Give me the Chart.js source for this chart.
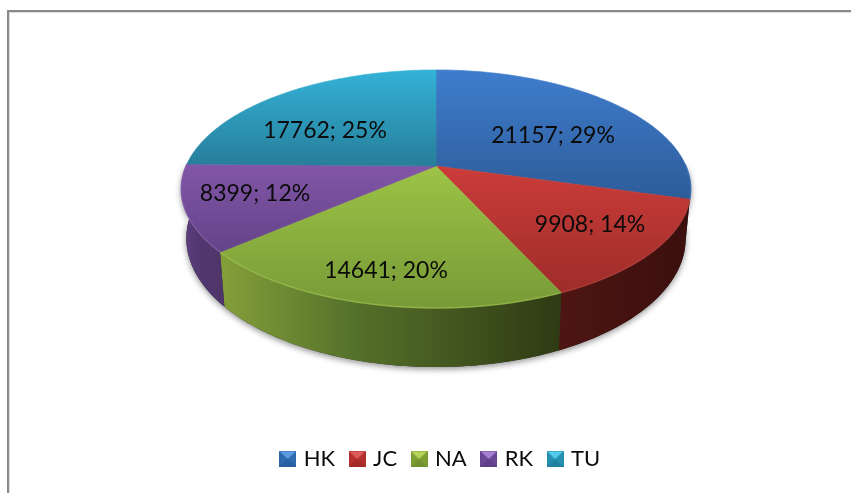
<!DOCTYPE html>
<html>
<head>
<meta charset="utf-8">
<style>html,body{margin:0;padding:0;background:#fff}canvas{display:block}</style>
<script src="https://cdn.jsdelivr.net/npm/chart.js@4"></script>
</head>
<body>
<canvas id="c" width="851" height="493"></canvas>
<script>
const categories = ['HK', 'JC', 'NA', 'RK', 'TU'];
const values = [21157, 9908, 14641, 8399, 17762];
const percents = [29, 14, 20, 12, 25];

const baseColors = ['#3A70B5', '#BE3A37', '#8FB140', '#7850A0', '#2E9CBC'];
const topLight = ['#3F7DCD', '#CB3C39', '#9DC346', '#8256A8', '#33B2D7'];
const topDark = ['#2D5C99', '#9E2D2A', '#789A37', '#644388', '#277E9A'];
const wallLeft = ['#24497C', '#4E1613', '#84A03A', '#5E4080', '#1E6E86'];
const wallMid = ['#21436F', '#461311', '#55702A', '#523770', '#1E6E86'];
const wallRight = ['#1D3B62', '#3A0F0D', '#2E3A13', '#4E3468', '#1E6E86'];
const rimColors = ['#4A80C4', '#B84340', '#A2C450', '#8A63AE', '#40B4D6'];
const legendTop = ['#5A9CDF', '#DC5C59', '#B6D45A', '#A680D0', '#52CCEC'];
const legendSide = ['#2F69AE', '#B5302E', '#7F9F35', '#6A4696', '#2590B0'];
const legendBottom = ['#2A5F9F', '#A32B29', '#739030', '#5F3F88', '#2182A0'];

const labelAnchors = [[553, 136], [590, 225], [386, 271], [255, 194], [325, 131]];

/* perspective view of the pie disc */
const view = {cx: 436, cy: 166, bx: 250, by: 114.6, k: -0.193, depth: 47.6, baseScale: 0.98};
function rimPoint(a, r) {
  const u = Math.cos(a) * r, v = Math.sin(a) * r, d = 1 + view.k * v;
  return [view.cx + view.bx * u / d, view.cy + view.by * v / d];
}
function basePoint(a) {
  const v = Math.sin(a), d = 1 + view.k * v, p = rimPoint(a, 1);
  return [view.cx + (p[0] - view.cx) * view.baseScale, p[1] + view.depth / d];
}
function arcPoints(a1, a2, fn) {
  const n = Math.max(2, Math.ceil(Math.abs(a2 - a1) / 0.02)), pts = [];
  for (let i = 0; i <= n; i++) pts.push(fn(a1 + (a2 - a1) * i / n));
  return pts;
}
function tracePoly(ctx, pts) {
  ctx.beginPath();
  pts.forEach((p, i) => i ? ctx.lineTo(p[0], p[1]) : ctx.moveTo(p[0], p[1]));
  ctx.closePath();
}
function wallPoly(a1, a2) {
  return arcPoints(a1, a2, a => rimPoint(a, 1)).concat(arcPoints(a2, a1, basePoint));
}

function bevelSwatch(i) {
  const s = document.createElement('canvas');
  s.width = 17; s.height = 16;
  const g = s.getContext('2d'), w = 17, h = 16, cx = 8.5, cy = 8;
  const tri = (pts, col) => { tracePoly(g, pts); g.fillStyle = col; g.fill(); };
  g.fillStyle = legendSide[i]; g.fillRect(0, 0, w, h);
  tri([[0, h], [w, h], [cx, cy]], legendBottom[i]);
  tri([[0, 0], [w, 0], [cx, cy]], legendTop[i]);
  g.strokeStyle = legendBottom[i]; g.globalAlpha = 0.4;
  g.strokeRect(0.5, 0.5, w - 1, h - 1);
  return s;
}

const pie3d = {
  id: 'pie3d',
  beforeDraw(chart) {
    const ctx = chart.ctx;
    ctx.save();
    ctx.fillStyle = '#8A8A8A';
    ctx.fillRect(7, 10, 844, 2);
    ctx.fillRect(7, 10, 2, 483);
    ctx.fillStyle = '#DDDDDD';
    ctx.fillRect(9, 12, 842, 1);
    ctx.fillRect(9, 12, 1, 481);
    ctx.restore();
  },
  beforeDatasetDraw(chart, args) {
    const ctx = chart.ctx, arcs = args.meta.data;
    const front0 = -0.02, front1 = Math.PI + 0.02;
    ctx.save();

    // soft shadow under the whole body
    ctx.save();
    ctx.shadowColor = 'rgba(0,0,0,0.45)';
    ctx.shadowBlur = 6;
    ctx.shadowOffsetY = 2;
    tracePoly(ctx, wallPoly(front0, front1));
    ctx.fillStyle = '#333';
    ctx.fill();
    ctx.restore();

    // outer walls
    arcs.forEach((arc, i) => {
      const a1 = Math.max(arc.startAngle, front0), a2 = Math.min(arc.endAngle, front1);
      if (a2 <= a1) return;
      const pts = wallPoly(a1, a2);
      const xs = pts.map(p => p[0]);
      const g = ctx.createLinearGradient(Math.min(...xs), 0, Math.max(...xs), 0);
      g.addColorStop(0, wallLeft[i]);
      g.addColorStop(0.4, wallMid[i]);
      g.addColorStop(1, wallRight[i]);
      tracePoly(ctx, pts);
      ctx.fillStyle = g;
      ctx.fill();
    });

    // top faces
    arcs.forEach((arc, i) => {
      const pts = [[view.cx, view.cy]].concat(arcPoints(arc.startAngle, arc.endAngle, a => rimPoint(a, 1)));
      const ys = pts.map(p => p[1]);
      const g = ctx.createLinearGradient(0, Math.min(...ys), 0, Math.max(...ys));
      g.addColorStop(0, topLight[i]);
      g.addColorStop(1, topDark[i]);
      tracePoly(ctx, pts);
      ctx.fillStyle = g;
      ctx.fill();
      ctx.strokeStyle = g;
      ctx.lineWidth = 0.6;
      ctx.stroke();
    });

    // light rim along the front edge
    arcs.forEach((arc, i) => {
      const a1 = Math.max(arc.startAngle, front0), a2 = Math.min(arc.endAngle, front1);
      if (a2 <= a1) return;
      const pts = arcPoints(a1, a2, a => rimPoint(a, 1));
      ctx.beginPath();
      pts.forEach((p, j) => j ? ctx.lineTo(p[0], p[1]) : ctx.moveTo(p[0], p[1]));
      ctx.strokeStyle = rimColors[i];
      ctx.globalAlpha = 0.6;
      ctx.lineWidth = 1.5;
      ctx.stroke();
      ctx.globalAlpha = 1;
    });
    ctx.restore();
    return false;
  },
  afterDatasetsDraw(chart) {
    const ctx = chart.ctx;
    ctx.save();
    ctx.font = '23px Lato';
    ctx.fillStyle = '#0B0B0B';
    ctx.textAlign = 'center';
    ctx.textBaseline = 'middle';
    values.forEach((v, i) => {
      ctx.fillText(v + '; ' + percents[i] + '%', labelAnchors[i][0], labelAnchors[i][1]);
    });
    ctx.restore();
  }
};

new Chart(document.getElementById('c'), {
  type: 'pie',
  data: {
    labels: categories,
    datasets: [{data: values, backgroundColor: baseColors, borderWidth: 0}]
  },
  plugins: [pie3d],
  options: {
    responsive: false,
    animation: false,
    layout: {padding: {left: 32, bottom: 13}},
    plugins: {
      tooltip: {enabled: false},
      legend: {
        position: 'bottom',
        labels: {
          usePointStyle: true,
          boxWidth: 10,
          padding: 17,
          color: '#0B0B0B',
          font: {family: 'Lato', size: 22},
          generateLabels: () => categories.map((t, i) => ({
            text: t, index: i, hidden: false, lineWidth: 0,
            fillStyle: baseColors[i], strokeStyle: baseColors[i],
            pointStyle: bevelSwatch(i), fontColor: '#0B0B0B'
          }))
        }
      }
    }
  }
});
</script>
</body>
</html>
